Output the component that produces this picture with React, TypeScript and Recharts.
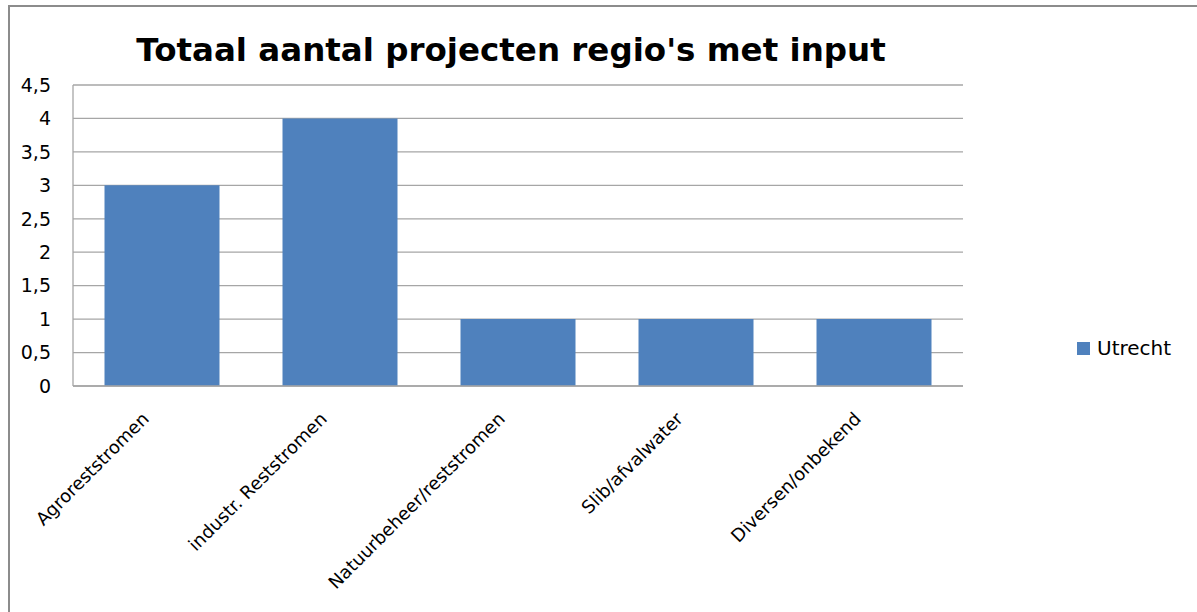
import { BarChart, Bar, XAxis, YAxis, CartesianGrid } from 'recharts'

// ── Data ──────────────────────────────────────────────────────────────────────

const CATEGORIES = [
  'Agroreststromen',
  'industr. Reststromen',
  'Natuurbeheer/reststromen',
  'Slib/afvalwater',
  'Diversen/onbekend',
]
const SERIES_NAME = 'Utrecht'
const UTRECHT = [3, 4, 1, 1, 1]
const Y_TICKS = [0, 0.5, 1, 1.5, 2, 2.5, 3, 3.5, 4, 4.5]

const chartData = CATEGORIES.map((name, i) => ({ name, [SERIES_NAME]: UTRECHT[i] }))

// ── Styles ────────────────────────────────────────────────────────────────────

const FONT = 'DejaVu Sans, sans-serif'
const BAR = '#4f81bd'
const GRID = '#a6a6a6'
const W = 1197
const H = 612

const fmtNum = (v: number) => String(v).replace('.', ',')

function CatTick({ x, y, payload }: any) {
  return (
    <g transform={`translate(${x - 12},${y})`}>
      <text x={0} y={0} textAnchor="end" transform="rotate(-45)" fontFamily={FONT} fontSize={18} fill="#000">
        {payload.value}
      </text>
    </g>
  )
}

export default function App() {
  return (
    <div style={{ position: 'absolute', left: 0, top: 0, width: W, height: H, overflow: 'hidden', background: '#fff' }}>
      {/* outer frame: only top and left edges show in the picture */}
      <div style={{
        position: 'absolute', left: 8, top: 5, width: W, height: H,
        borderTop: '2px solid #8c8c8c', borderLeft: '2px solid #8c8c8c',
      }} />
      <div style={{
        position: 'absolute', left: 0, width: 1022, top: 30, textAlign: 'center',
        fontFamily: FONT, fontWeight: 'bold', fontSize: 32.5, color: '#000', lineHeight: '40px',
      }}>
        Totaal aantal projecten regio's met input
      </div>
      <div style={{ position: 'absolute', left: 0, top: 0 }}>
        <BarChart width={W} height={H} data={chartData} barCategoryGap="17.7%"
          margin={{ top: 85, right: 234, left: 0, bottom: 196 }}>
          <CartesianGrid vertical={false} stroke={GRID} strokeWidth={1.3} />
          <XAxis dataKey="name" tick={<CatTick />} tickLine={false} tickSize={0} tickMargin={34}
            axisLine={{ stroke: GRID, strokeWidth: 1.3 }} interval={0} height={30} />
          <YAxis width={73} domain={[0, 4.5]} ticks={Y_TICKS} tickFormatter={fmtNum}
            tickLine={false} tickSize={0} tickMargin={22}
            axisLine={{ stroke: GRID, strokeWidth: 1.3 }}
            tick={{ fontFamily: FONT, fontSize: 19, fill: '#000' }} />
          <Bar dataKey={SERIES_NAME} fill={BAR} isAnimationActive={false} />
        </BarChart>
      </div>
      {/* legend */}
      <div style={{
        position: 'absolute', left: 1077, top: 336, display: 'flex', alignItems: 'center',
        fontFamily: FONT, fontSize: 20, color: '#000', lineHeight: '24px',
      }}>
        <span style={{ width: 13, height: 13, background: BAR, display: 'inline-block', marginRight: 7 }} />
        {SERIES_NAME}
      </div>
    </div>
  )
}
